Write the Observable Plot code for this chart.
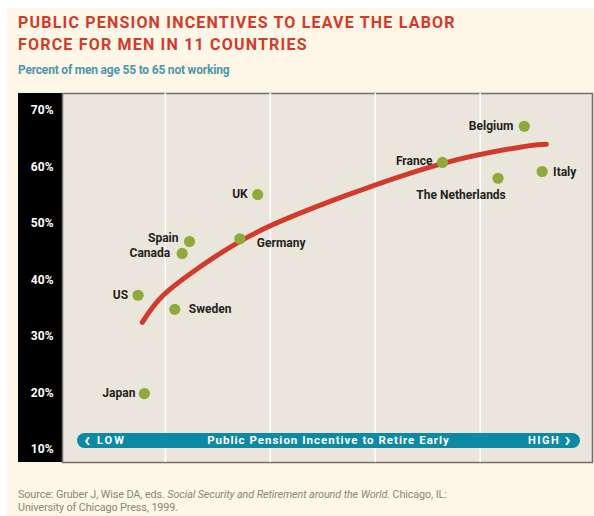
<!DOCTYPE html>
<html>
<head>
<meta charset="utf-8">
<script src="https://cdn.jsdelivr.net/npm/d3@7"></script>
<script src="https://cdn.jsdelivr.net/npm/@observablehq/plot@0.6"></script>
<style>
  html, body { margin: 0; padding: 0; background: #ffffff; }
  body { width: 594px; height: 516px; position: relative; overflow: hidden; font-family: Roboto, "DejaVu Sans", sans-serif; }
  .abs { position: absolute; }
  #bg { left: 7px; top: 8px; right: 0; bottom: 0; background: #fef6e6; }
  #title { left: 18px; top: 11.5px; font-size: 16px; line-height: 22px; font-weight: 700; color: #d13b2b; letter-spacing: 1.2px; white-space: nowrap; }
  #subtitle { left: 18px; top: 63px; font-size: 12px; line-height: 14px; font-weight: 700; color: #4b98ae; letter-spacing: -0.2px; white-space: nowrap; }
  #band { left: 18px; top: 93px; width: 44px; height: 369px; background: #000; }
  #chart { left: 18px; top: 88px; }
  #pill { left: 77px; top: 433px; width: 503px; height: 15px; border-radius: 7.5px; background: #0b89a5; color: #fff; font-weight: 700; font-size: 11px; line-height: 15px; }
  .pt { position: absolute; top: 0; white-space: nowrap; }
  .chev { display: inline-block; font-size: 20px; line-height: 15px; height: 15px; vertical-align: top; position: relative; top: -1.5px; font-weight: 700; }
  #low { left: 7px; letter-spacing: 2px; }
  #mid { left: 0; right: 0; text-align: center; letter-spacing: 1px; font-size: 11.5px; }
  #high { right: 8px; letter-spacing: 1.5px; }
  #caption { left: 18px; top: 487.6px; font-size: 10.8px; line-height: 13.7px; color: #8c8776; letter-spacing: -0.1px; white-space: nowrap; }
</style>
</head>
<body>
<div id="bg" class="abs"></div>
<div id="title" class="abs">PUBLIC PENSION INCENTIVES TO LEAVE THE LABOR<br>FORCE FOR MEN IN 11 COUNTRIES</div>
<div id="subtitle" class="abs">Percent of men age 55 to 65 not working</div>
<div id="band" class="abs"></div>
<div id="chart" class="abs"></div>
<div id="pill" class="abs"><span id="low" class="pt"><span class="chev">‹</span> LOW</span><span id="mid" class="pt">Public Pension Incentive to Retire Early</span><span id="high" class="pt">HIGH <span class="chev">›</span></span></div>
<div id="caption" class="abs">Source: Gruber J, Wise DA, eds. <i>Social Security and Retirement around the World.</i> Chicago, IL:<br>University of Chicago Press, 1999.</div>
<script>
// ---- Data ----
const countries  = ["UK", "Spain", "Canada", "Germany", "US", "Sweden", "Japan", "Belgium", "France", "The Netherlands", "Italy"];
const incentive  = [1.88, 1.23, 1.16, 1.71, 0.74, 1.09, 0.80, 4.42, 3.64, 4.17, 4.59];   // relative position, low → high
const notWorking = [55.1, 46.8, 44.7, 47.3, 37.3, 34.8, 19.9, 67.2, 60.8, 58.0, 59.2];   // percent

const trendX = [0.78, 0.98, 1.36, 1.90, 2.73, 3.64, 4.38, 4.63];
const trendY = [32.5, 37.3, 42.7, 48.7, 55.0, 60.6, 63.5, 64.0];

const yTicks = [10, 20, 30, 40, 50, 60, 70];
const xGrid  = [1, 2, 3, 4];

// ---- Build tables ----
const points = countries.map((c, i) => ({country: c, x: incentive[i], y: notWorking[i]}));
const trend  = trendX.map((x, i) => ({x, y: trendY[i]}));

// label placement (style only)
const placement = {
  "UK":              {anchor: "end",    dx: -10, dy: 0},
  "Spain":           {anchor: "end",    dx: -11, dy: -3},
  "Canada":          {anchor: "end",    dx: -12, dy: 0},
  "Germany":         {anchor: "start",  dx: 17,  dy: 4},
  "US":              {anchor: "end",    dx: -10, dy: 0},
  "Sweden":          {anchor: "start",  dx: 14,  dy: 0},
  "Japan":           {anchor: "end",    dx: -9,  dy: 0},
  "Belgium":         {anchor: "end",    dx: -11, dy: 0},
  "France":          {anchor: "end",    dx: -10, dy: -1},
  "The Netherlands": {anchor: "middle", dx: -37, dy: 17},
  "Italy":           {anchor: "start",  dx: 11,  dy: 1}
};

const labelMarks = points.map(p => {
  const s = placement[p.country];
  return Plot.text([p], {
    x: "x", y: "y", text: "country",
    textAnchor: s.anchor, dx: s.dx, dy: s.dy,
    fill: "#231f20", fontSize: 12, fontWeight: "bold",
    style: "letter-spacing:0.3px"
  });
});

const chart = Plot.plot({
  width: 576,
  height: 380,
  marginLeft: 44,
  marginRight: 2,
  marginTop: 5,
  marginBottom: 6,
  style: {background: "transparent", fontFamily: "Roboto, sans-serif", overflow: "visible"},
  x: {domain: [0.02, 5.07], axis: null},
  y: {domain: [7.7, 73]},
  marks: [
    Plot.frame({fill: "#ebe6dc", stroke: "#6f6f6f", strokeWidth: 1.5}),
    Plot.ruleX(xGrid, {stroke: "#ffffff", strokeWidth: 1.6}),
    Plot.axisY({ticks: yTicks, tickFormat: d => d + "%", tickSize: 0, tickPadding: 9,
                fill: "#ffffff", fontSize: 12, fontWeight: "bold", label: null}),
    Plot.line(trend, {x: "x", y: "y", curve: "natural", stroke: "#d13b2b", strokeWidth: 5, strokeLinecap: "round"}),
    Plot.dot(points, {x: "x", y: "y", r: 5.6, fill: "#8fa93b"}),
    ...labelMarks
  ]
});
document.getElementById("chart").appendChild(chart);
</script>
</body>
</html>
